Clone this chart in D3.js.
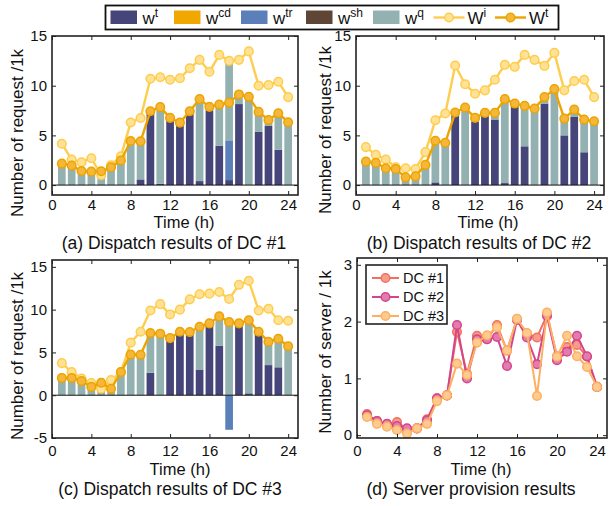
<!DOCTYPE html>
<html>
<head>
<meta charset="utf-8">
<script src="https://cdn.jsdelivr.net/npm/d3@7"></script>
<style>
  body { margin: 0; background: #fff; }
  svg text { font-family: Arial, "Liberation Sans", Helvetica, sans-serif; }
</style>
</head>
<body>
<svg id="fig" width="609" height="506"></svg>
<script>
// ---- data ----
const hours = [1, 2, 3, 4, 5, 6, 7, 8, 9, 10, 11, 12, 13, 14, 15, 16, 17, 18, 19, 20, 21, 22, 23, 24];
const xTicks = [0, 4, 8, 12, 16, 20, 24];
const zeros = [0, 0, 0, 0, 0, 0, 0, 0, 0, 0, 0, 0, 0, 0, 0, 0, 0, 0, 0, 0, 0, 0, 0, 0];

// DC #1
const wtA  = [0, 0, 0, 0, 0, 0, 0, 0, 0.57, 7.3, 0.13, 6.55, 6.1, 7.3, 0.4, 7.5, 3.95, 0.5, 8.15, 0, 5.35, 5.95, 3.55, 0];
const wtrA = [0, 0, 0, 0, 0, 0, 0, 0, 0, 0, 0, 0, 0, 0, 0, 0, 0, 4.0, 0, 0, 0, 0, 0, 0];
const wqA  = [2.1, 1.9, 1.35, 1.3, 1.3, 1.9, 2.5, 4.4, 3.93, 0.15, 7.37, 0.15, 0.1, 0.1, 8.0, 0.15, 3.95, 7.7, 0.6, 8.75, 1.8, 0.35, 3.35, 6.15];
const WiA  = [4.16, 2.57, 2.3, 2.7, 1.0, 2.0, 2.9, 6.3, 6.75, 10.7, 10.85, 10.6, 10.75, 11.75, 12.6, 11.4, 13.1, 12.5, 12.6, 13.45, 10.0, 10.07, 10.4, 8.85];
const WtA  = [2.16, 1.96, 1.42, 1.35, 1.39, 1.79, 2.47, 4.43, 4.4, 7.43, 7.84, 6.76, 6.28, 7.43, 8.65, 7.87, 8.1, 8.3, 9.12, 8.88, 7.36, 6.55, 7.23, 6.32];

// DC #2
const wtB  = [0, 0, 0, 0, 0, 0, 0, 0.27, 0, 7.1, 0, 6.35, 7.0, 6.6, 0.2, 8.0, 3.9, 0, 8.2, 0, 5.0, 6.85, 3.3, 0];
const wtrB = zeros;
const wqB  = [2.3, 2.0, 1.6, 1.55, 0.7, 0.75, 2.0, 4.03, 4.26, 0.1, 7.55, 0.3, 0.1, 0.7, 8.25, 0.2, 4.0, 7.7, 0.35, 9.4, 1.8, 0.55, 3.2, 6.35];
const WiB  = [3.82, 3.04, 2.57, 1.79, 1.69, 1.62, 3.31, 6.52, 7.2, 12.03, 10.14, 9.19, 9.53, 10.6, 12.1, 11.9, 13.1, 12.6, 12.0, 13.3, 9.53, 10.47, 10.6, 8.85];
const WtB  = [2.36, 2.23, 1.69, 1.62, 0.78, 0.88, 2.03, 4.46, 4.26, 7.3, 7.8, 6.76, 7.26, 7.26, 8.65, 8.2, 7.97, 7.7, 8.85, 9.66, 6.69, 7.6, 6.59, 6.42];

// DC #3
const wtC  = [0, 0, 0, 0, 0, 0, 0, 0, 0, 2.62, 0, 6.5, 7.2, 7.2, 3.0, 8.24, 5.77, 0, 8.24, 0.22, 7.2, 3.52, 3.26, 0];
const wtrC = [0, 0, 0, 0, 0, 0, 0, 0, 0, 0, 0, 0, 0, 0, 0, 0, 0, -4.04, 0, 0, 0, 0, 0, 0];
const wqC  = [2.0, 1.95, 1.57, 1.0, 0.82, 0.82, 2.5, 4.76, 4.87, 4.58, 7.1, 0.1, 0.1, 0.07, 4.9, 0.06, 3.23, 8.54, 0.06, 8.48, 0.15, 2.63, 3.11, 5.77];
const WiC  = [3.75, 2.7, 1.95, 1.42, 0.75, 1.76, 2.7, 6.14, 7.42, 9.9, 10.64, 9.44, 10.0, 11.2, 11.8, 11.87, 12.06, 11.24, 12.9, 13.37, 9.9, 10.1, 8.76, 8.7];
const WtC  = [2.02, 2.02, 1.65, 0.97, 1.46, 0.75, 2.7, 4.76, 4.72, 7.27, 7.19, 6.67, 7.42, 7.38, 8.0, 8.39, 9.21, 8.54, 8.39, 8.76, 7.42, 6.25, 6.6, 5.73];

// server provision
const dc1 = [0.37, 0.25, 0.19, 0.23, 0.11, 0.12, 0.28, 0.65, 0.7, 1.82, 1.08, 1.75, 1.69, 1.94, 1.49, 2.04, 1.79, 1.72, 2.12, 1.39, 1.55, 1.59, 1.38, 0.85];
const dc2 = [0.35, 0.25, 0.2, 0.16, 0.12, 0.12, 0.26, 0.65, 0.7, 1.94, 1.0, 1.69, 1.69, 1.73, 1.22, 2.03, 1.72, 1.25, 2.1, 1.32, 1.47, 1.75, 1.39, 0.85];
const dc3 = [0.32, 0.2, 0.15, 0.09, 0.03, 0.12, 0.2, 0.6, 0.7, 1.26, 1.06, 1.63, 1.76, 1.9, 1.49, 2.05, 1.8, 0.69, 2.16, 1.38, 1.75, 1.39, 1.2, 0.85];

const barKeys = ["wt", "wcd", "wtr", "wsh", "wq"];
const barColors = { wt: "#46457a", wcd: "#f0a800", wtr: "#5b7fb8", wsh: "#5e4536", wq: "#94b1b1" };
const lineStyle = {
  Wi: { stroke: "#ffcd4e", fill: "#ffe296" },
  Wt: { stroke: "#eca400", fill: "#f5b73a" }
};
const dcStyle = [
  { name: "DC #1", stroke: "#f2705f", fill: "#f79b8d" },
  { name: "DC #2", stroke: "#d4468b", fill: "#e27bb0" },
  { name: "DC #3", stroke: "#fdb062", fill: "#fdca90" }
];

const svg = d3.select("#fig");
const ink = "#222";
const plain = d => String(d).replace("\u2212", "-");

// ---- shared axes/frame ----
function drawAxes(p, x, y) {
  const g = svg.append("g").attr("color", ink);
  const [x0, x1] = x.range();
  const [yb, yt] = y.range();

  g.append("g").attr("transform", `translate(0,${yb})`)
    .call(d3.axisBottom(x).tickValues(xTicks).tickFormat(plain).tickSizeInner(-4).tickSizeOuter(0))
    .call(a => a.select(".domain").remove())
    .call(a => a.selectAll("text").attr("y", p.tickY - yb).attr("dy", "0.35em")
      .attr("font-size", 15).attr("font-family", null).attr("fill", "#111"));

  g.append("g").attr("transform", `translate(0,${yt})`)
    .call(d3.axisTop(x).tickValues(xTicks).tickSizeInner(-4).tickSizeOuter(0).tickFormat(""))
    .call(a => a.select(".domain").remove());

  g.append("g").attr("transform", `translate(${x0},0)`)
    .call(d3.axisLeft(y).tickValues(p.yTicks).tickFormat(plain).tickSizeInner(-4).tickSizeOuter(0).tickPadding(5))
    .call(a => a.select(".domain").remove())
    .call(a => a.selectAll("text").attr("font-size", 15).attr("font-family", null).attr("fill", "#111"));

  g.append("g").attr("transform", `translate(${x1},0)`)
    .call(d3.axisRight(y).tickValues(p.yTicks).tickSizeInner(-4).tickSizeOuter(0).tickFormat(""))
    .call(a => a.select(".domain").remove());

  g.selectAll(".tick line").attr("stroke-width", 1);

  g.append("rect")
    .attr("x", x0).attr("y", yt).attr("width", x1 - x0).attr("height", yb - yt)
    .attr("fill", "none").attr("stroke", ink).attr("stroke-width", 1.6);

  svg.append("text").attr("x", p.timeX).attr("y", p.timeY).attr("dy", "0.35em")
    .attr("text-anchor", "middle").attr("font-size", 16.5).attr("fill", "#111").text("Time (h)");
  svg.append("text").attr("x", p.capX).attr("y", p.capY).attr("dy", "0.35em")
    .attr("text-anchor", "middle").attr("font-size", 17.5).attr("fill", "#111").text(p.caption);
  svg.append("text")
    .attr("transform", `translate(${p.ylabX},${p.ylabY}) rotate(-90)`)
    .attr("dy", "0.35em").attr("text-anchor", "middle").attr("font-size", 17).attr("fill", "#111")
    .text(p.ylabel);
}

function markerLine(g, x, y, values, st, width) {
  const line = d3.line().x((d, i) => x(hours[i])).y(d => y(d));
  g.append("path").datum(values).attr("d", line)
    .attr("fill", "none").attr("stroke", st.stroke).attr("stroke-width", width)
    .attr("stroke-linejoin", "round");
  g.selectAll(null).data(values).join("circle")
    .attr("cx", (d, i) => x(hours[i])).attr("cy", d => y(d)).attr("r", 4.3)
    .attr("fill", st.fill).attr("stroke", st.stroke).attr("stroke-width", 1.5);
}

// ---- dispatch panels ----
function drawDispatch(p) {
  const x = d3.scaleLinear().domain([0, 25]).range(p.xr);
  const y = d3.scaleLinear().domain(p.yd).range(p.yr);
  const rows = hours.map((h, i) => ({
    h, wt: p.wt[i], wcd: zeros[i], wtr: p.wtr[i], wsh: zeros[i], wq: p.wq[i]
  }));
  const stacked = d3.stack().keys(barKeys).offset(d3.stackOffsetDiverging)(rows);
  const bw = (x(1) - x(0)) * 0.78;

  const g = svg.append("g");
  g.selectAll("g.layer").data(stacked).join("g").attr("class", "layer")
    .attr("fill", s => barColors[s.key])
    .selectAll("rect").data(s => s).join("rect")
    .attr("x", d => x(d.data.h) - bw / 2).attr("width", bw)
    .attr("y", d => y(Math.max(d[0], d[1])))
    .attr("height", d => Math.abs(y(d[0]) - y(d[1])));

  g.append("line").attr("x1", p.xr[0]).attr("x2", p.xr[1])
    .attr("y1", y(0)).attr("y2", y(0)).attr("stroke", "#111").attr("stroke-width", 1);

  markerLine(g, x, y, p.Wi, lineStyle.Wi, 2.4);
  markerLine(g, x, y, p.Wt, lineStyle.Wt, 2.4);

  drawAxes(p, x, y);
}

const ylabReq = "Number of request /1k";

drawDispatch({
  wt: wtA, wtr: wtrA, wq: wqA, Wi: WiA, Wt: WtA,
  xr: [52, 298], yd: [-1, 15], yr: [195, 36], yTicks: [0, 5, 10, 15],
  tickY: 205, timeX: 184, timeY: 222, capX: 174, capY: 243,
  caption: "(a) Dispatch results of DC #1", ylabel: ylabReq, ylabX: 17, ylabY: 133
});
drawDispatch({
  wt: wtB, wtr: wtrB, wq: wqB, Wi: WiB, Wt: WtB,
  xr: [356, 604], yd: [-1, 15], yr: [195, 36], yTicks: [0, 5, 10, 15],
  tickY: 205, timeX: 488, timeY: 222, capX: 479, capY: 243,
  caption: "(b) Dispatch results of DC #2", ylabel: ylabReq, ylabX: 325, ylabY: 130
});
drawDispatch({
  wt: wtC, wtr: wtrC, wq: wqC, Wi: WiC, Wt: WtC,
  xr: [52, 298], yd: [-5, 15.8], yr: [438, 260], yTicks: [-5, 0, 5, 10, 15],
  tickY: 451, timeX: 180, timeY: 469, capX: 170, capY: 489,
  caption: "(c) Dispatch results of DC #3", ylabel: ylabReq, ylabX: 17, ylabY: 356
});

// ---- server provision panel ----
(function () {
  const p = {
    xr: [357, 607], yd: [-0.05, 3.12], yr: [438, 258], yTicks: [0, 1, 2, 3],
    tickY: 451, timeX: 481, timeY: 469, capX: 471, capY: 489,
    caption: "(d) Server provision results", ylabel: "Number of server / 1k", ylabX: 325, ylabY: 352
  };
  const x = d3.scaleLinear().domain([0, 25]).range(p.xr);
  const y = d3.scaleLinear().domain(p.yd).range(p.yr);
  const g = svg.append("g");
  [dc1, dc2, dc3].forEach((vals, k) => markerLine(g, x, y, vals, dcStyle[k], 2));
  drawAxes(p, x, y);

  const lg = svg.append("g");
  lg.append("rect").attr("x", 366).attr("y", 265).attr("width", 81).attr("height", 59)
    .attr("fill", "#fff").attr("stroke", ink).attr("stroke-width", 1.6);
  dcStyle.forEach((st, k) => {
    const cy = 278 + k * 19;
    lg.append("line").attr("x1", 372).attr("x2", 399).attr("y1", cy).attr("y2", cy)
      .attr("stroke", st.stroke).attr("stroke-width", 2);
    lg.append("circle").attr("cx", 385.5).attr("cy", cy).attr("r", 4.3)
      .attr("fill", st.fill).attr("stroke", st.stroke).attr("stroke-width", 1.5);
    lg.append("text").attr("x", 403).attr("y", cy).attr("dy", "0.35em")
      .attr("font-size", 14.5).attr("fill", "#111").text(st.name);
  });
})();

// ---- top legend ----
(function () {
  const lg = svg.append("g");
  lg.append("rect").attr("x", 105.5).attr("y", 5.5).attr("width", 453).attr("height", 24)
    .attr("fill", "#fff").attr("stroke", "#111").attr("stroke-width", 1.8);
  const cy = 17.5;
  const patches = [
    { key: "wt", sup: "t", x: 110.5 },
    { key: "wcd", sup: "cd", x: 174 },
    { key: "wtr", sup: "tr", x: 241 },
    { key: "wsh", sup: "sh", x: 306 },
    { key: "wq", sup: "q", x: 373 }
  ];
  patches.forEach(pt => {
    lg.append("rect").attr("x", pt.x).attr("y", cy - 7).attr("width", 26.5).attr("height", 13.5)
      .attr("fill", barColors[pt.key]);
    const t = lg.append("text").attr("x", pt.x + 32).attr("y", cy + 6).attr("font-size", 17).attr("fill", "#111");
    t.append("tspan").text("w");
    t.append("tspan").attr("dy", -7).attr("font-size", 12).text(pt.sup);
  });
  const lines = [
    { st: lineStyle.Wi, sup: "i", x: 433.5 },
    { st: lineStyle.Wt, sup: "t", x: 495 }
  ];
  lines.forEach(ln => {
    lg.append("line").attr("x1", ln.x).attr("x2", ln.x + 31).attr("y1", cy).attr("y2", cy)
      .attr("stroke", ln.st.stroke).attr("stroke-width", 2.4);
    lg.append("circle").attr("cx", ln.x + 15.5).attr("cy", cy).attr("r", 4.3)
      .attr("fill", ln.st.fill).attr("stroke", ln.st.stroke).attr("stroke-width", 1.5);
    const t = lg.append("text").attr("x", ln.x + 34).attr("y", cy + 6).attr("font-size", 17).attr("fill", "#111");
    t.append("tspan").text("W");
    t.append("tspan").attr("dy", -7).attr("font-size", 12).text(ln.sup);
  });
})();
</script>
</body>
</html>
